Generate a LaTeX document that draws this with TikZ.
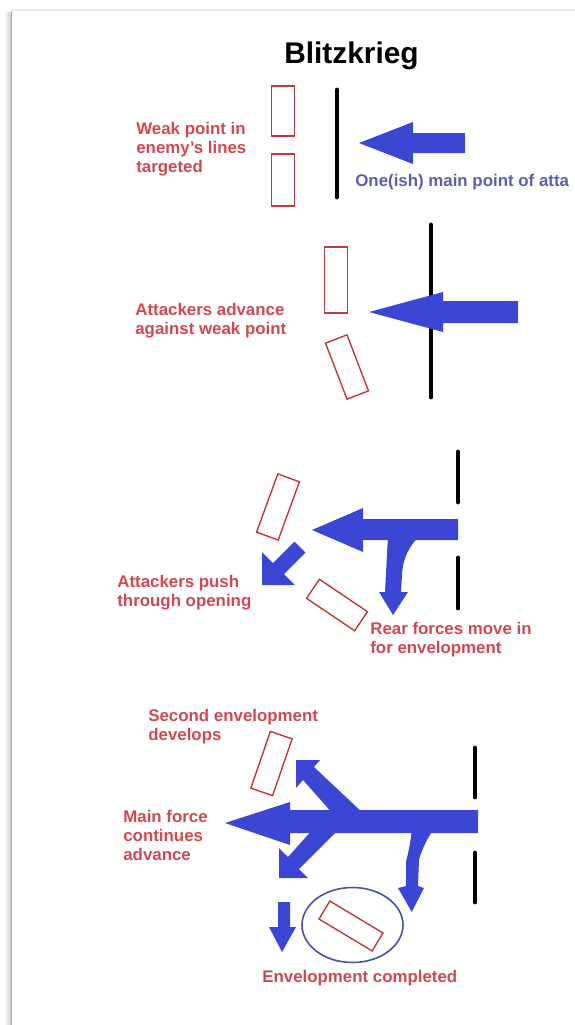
\documentclass[tikz,border=0pt]{standalone}
\usepackage{fontspec}
\setmainfont{Liberation Sans}
\usetikzlibrary{shapes.geometric}
\definecolor{forceblue}{RGB}{60,70,212}
\definecolor{notered}{RGB}{208,72,82}
\definecolor{unitred}{RGB}{192,58,60}
\definecolor{ringblue}{RGB}{72,80,160}
\definecolor{pointblue}{RGB}{92,96,172}
\begin{document}
\begin{tikzpicture}[x=0.02cm, y=-0.02cm,
    note/.style={anchor=west, align=left, inner sep=0pt, text=notered, font=\bfseries\fontsize{9.6}{10.8}\selectfont},
    unit/.style={draw=unitred, line width=0.8pt, minimum width=0.46cm, minimum height=1.2cm, inner sep=0pt},
    front/.style={line width=2.8pt, line cap=round},
    force/.style={fill=forceblue}]
        \useasboundingbox (0,0) rectangle (575,1025);
        % page edge
        \shade[left color=white, right color=gray!40] (4,12) rectangle (11,1025);
        \draw[gray!70, line width=1pt] (11.5,11) -- (11.5,1025);
        \draw[gray!15, line width=1.2pt] (11.5,10) -- (575,10);

        \node[anchor=base, inner sep=0pt, font=\bfseries\fontsize{17}{20}\selectfont] (title) at (351.5,63) {Blitzkrieg};

        % 1: weak point targeted
        \node[unit, minimum height=1.0cm] (gapA1) at (283,111) {};
        \node[unit, minimum height=1.04cm] (gapA2) at (283,180) {};
        \draw[front] (337,90) -- (337,197);
        \fill[force] (359,143) -- (413,122) -- (413,133) -- (465,133) -- (465,153) -- (413,153) -- (413,164) -- cycle;
        \node[note] (weaknote) at (136,149) {Weak point in\\enemy's lines\\targeted};
        \node[note, text=pointblue] (pointnote) at (355,182) {One(ish) main point of atta};

        % 2: advance against the weak point
        \node[unit, minimum height=1.32cm] (gapB1) at (336,280) {};
        \node[unit, rotate=21] (gapB2) at (347,367) {};
        \draw[front] (431,225) -- (431,397);
        \fill[force] (369,312) -- (443,292) -- (443,301) -- (518,301) -- (518,323) -- (443,323) -- (443,332) -- cycle;
        \node[note] (advnote) at (135,321) {Attackers advance\\against weak point};

        % 3: push through the opening
        \node[unit, minimum height=1.24cm, rotate=-20] (gapC1) at (278,507) {};
        \node[unit, minimum height=1.16cm, rotate=56] (gapC2) at (337,605) {};
        \draw[front] (458,452) -- (458,502);
        \draw[front] (458,558) -- (458,608);
        \fill[force] (312,530) -- (363,508) -- (363,519) -- (458,519) -- (458,540) -- (363,540) -- (363,552) -- cycle;
        \fill[force] (388,535) -- (385,592) -- (379,592) -- (393,615) -- (408,592) -- (401,592) -- (402,575) .. controls (403,556) and (410,546) .. (420,535) -- cycle; % rear forces
        \fill[force] (262,585) -- (262,552) -- (273,563) -- (294.5,541.5) -- (305.5,552.5) -- (284,574) -- (295,585) -- cycle;
        \node[note] (pushnote) at (117,593) {Attackers push\\through opening};
        \node[note] (rearnote) at (370,640) {Rear forces move in\\for envelopment};

        % 4: envelopment
        \node[unit, rotate=-19] (gapD1) at (271.5,763.5) {};
        \node[draw=ringblue, ellipse, line width=0.9pt, minimum width=2.02cm, minimum height=1.5cm, inner sep=0pt] (ring) at (352.5,925) {};
        \node[unit, minimum width=0.42cm, minimum height=1.24cm, rotate=59] (gapD2) at (351,926) {};
        \draw[front] (475,748) -- (475,797);
        \draw[front] (475,853) -- (475,902);
        \fill[force] (225,823) -- (290,802) -- (290,810) -- (478,810) -- (478,833) -- (290,833) -- (290,845) -- cycle;
        \fill[force] (296,760) -- (320,760) -- (314,767) -- (365,815) -- (334,815) -- (303,780) -- (296,788) -- cycle; % second envelopment
        \fill[force] (279,878) -- (279,848) -- (288,857) -- (314,828) -- (340,828) -- (299,869) -- (308,878) -- cycle;
        \fill[force] (412,828) .. controls (410,845) .. (406,862) -- (406,886) -- (398,888) -- (411.7,912) -- (424,888) -- (418,886) -- (419,860) .. controls (422,848) and (428,838) .. (434,828) -- cycle;
        \fill[force] (278,902) -- (290,902) -- (290,927) -- (296,927) -- (282,952) -- (269,927) -- (278,927) -- cycle;
        \node[note] (secondnote) at (148,727) {Second envelopment\\develops};
        \node[note] (mainnote) at (123,835) {Main force\\continues\\advance};
        \node[note] (donenote) at (262,978) {Envelopment completed};
\end{tikzpicture}
\end{document}
